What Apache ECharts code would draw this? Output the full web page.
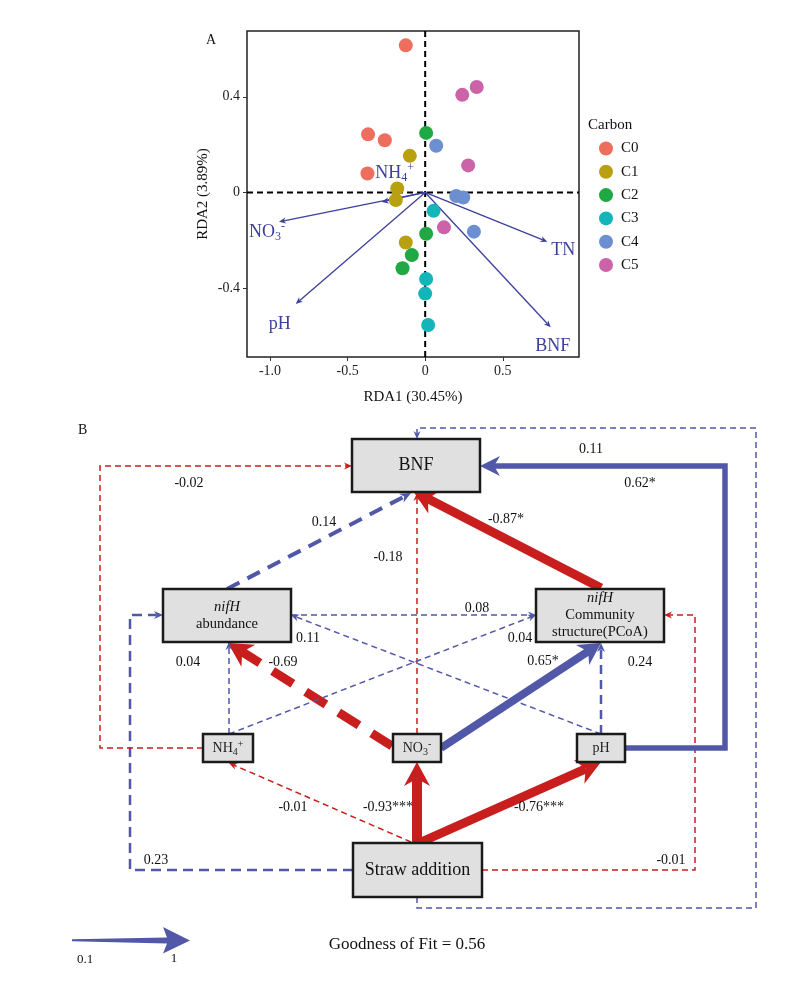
<!DOCTYPE html>
<html><head><meta charset="utf-8">
<script src="https://cdn.jsdelivr.net/npm/echarts@6/dist/echarts.min.js"></script>
<style>html,body{margin:0;padding:0;background:#fff}#c{width:804px;height:994px}</style>
</head><body><div id="c"></div>
<script>
// ================= Panel A data (RDA biplot) =================
const carbonGroups = ['C0','C1','C2','C3','C4','C5'];
const C0 = [[-0.125,0.615],[-0.368,0.243],[-0.26,0.218],[-0.372,0.079]];
const C1 = [[-0.099,0.153],[-0.18,0.017],[-0.189,-0.032],[-0.125,-0.209]];
const C2 = [[0.006,0.249],[0.006,-0.173],[-0.086,-0.262],[-0.146,-0.317]];
const C3 = [[0.054,-0.077],[0.006,-0.362],[0,-0.423],[0.019,-0.554]];
const C4 = [[0.071,0.195],[0.2,-0.015],[0.245,-0.021],[0.314,-0.164]];
const C5 = [[0.239,0.408],[0.332,0.441],[0.277,0.113],[0.121,-0.146]];
const envVars = ['NO3-','pH','TN','BNF','NH4+'];
const envRDA1 = [-0.942,-0.834,0.787,0.809,-0.28];
const envRDA2 = [-0.123,-0.466,-0.206,-0.564,-0.04];
const xTicks = [-1.0,-0.5,0,0.5];
const xTickLabels = ['-1.0','-0.5','0','0.5'];
const yTicks = [-0.4,0,0.4];
const yTickLabels = ['-0.4','0','0.4'];

// ================= Panel B data (path model) =================
const nodeNames = ['BNF','nifH abundance','nifH community','NH4+','NO3-','pH','Straw addition'];
const pathFrom = ['Straw addition','Straw addition','Straw addition','Straw addition','Straw addition','NH4+','NO3-','nifH community','nifH abundance','NO3-','NO3-','NH4+','NH4+','pH','nifH abundance','pH','Straw addition','pH'];
const pathTo   = ['NO3-','pH','NH4+','nifH abundance','BNF','BNF','BNF','BNF','BNF','nifH abundance','nifH community','nifH abundance','nifH community','nifH abundance','nifH community','nifH community','nifH community','BNF'];
const pathCoef = [-0.93,-0.76,-0.01,0.23,0.11,-0.02,-0.18,-0.87,0.14,-0.69,0.65,0.04,0.04,0.11,0.08,0.24,-0.01,0.62];
const pathSig  = ['***','***','','','','','','*','','','*','','','','','','','*'];
const goodnessOfFit = 0.56;

// ================= Styling / layout (not data) =================
const F = 'Liberation Serif';
const RED = '#C81E1E', BLUE = '#5158A8', ENV = '#3C3F9C';
const groupColors = ['#EE6E5E','#B8A010','#1FA843','#14B5B8','#6B8FD0','#CC62A8'];
const groupData = [C0,C1,C2,C3,C4,C5];
const envLabelText = {'NO3-':'{n|NO}{s|3}{p|-}','pH':'{n|pH}','TN':'{n|TN}','BNF':'{n|BNF}','NH4+':'{n|NH}{s|4}{p|+}'};
const envLabelOffset = {'NO3-':[-12,10],'pH':[-16,20],'TN':[16,9],'BNF':[2,19],'NH4+':[13,-29]};

// box layout in diagram units: x, y, w, h
const boxLayout = {
  'BNF':[352,439,128,53], 'nifH abundance':[163,589,128,53], 'nifH community':[536,589,128,53],
  'NH4+':[203,734,50,28], 'NO3-':[393,734,48,28], 'pH':[577,734,48,28], 'Straw addition':[353,843,129,54]
};
const boxText = {
  'BNF':'{big|BNF}', 'Straw addition':'{big|Straw addition}',
  'nifH abundance':'{i|nifH}\n{n|abundance}',
  'nifH community':'{i|nifH}\n{n|Community}\n{n|structure(PCoA)}',
  'NH4+':'{m|NH}{s|4}{p|+}', 'NO3-':'{m|NO}{s|3}{p|-}', 'pH':'{m|pH}'
};
// route, width, dash, head [len, halfWidth], label position
const pathLayout = [
  {r:[[417,843],[417,762]], w:10, d:null, h:[24,13], l:[388,807]},
  {r:[[419,843],[601,762]], w:9, d:null, h:[24,13], l:[539,807]},
  {r:[[411,842],[229,763]], w:1.5, d:[6,4], h:[8,3.5], l:[293,807]},
  {r:[[353,870],[130,870],[130,615],[163,615]], w:2.5, d:[10,6], h:[9,4], l:[156,860]},
  {r:[[417,897],[417,908],[756,908],[756,428],[417,428],[417,439]], w:1.5, d:[6,4], h:[8,3.5], l:[591,449]},
  {r:[[203,748],[100,748],[100,466],[352,466]], w:1.5, d:[6,4], h:[8,3.5], l:[189,483]},
  {r:[[417,734],[417,493]], w:1.5, d:[6,4], h:[8,3.5], l:[388,557]},
  {r:[[601,588],[413,491]], w:9, d:null, h:[24,13], l:[506,519]},
  {r:[[227,589],[411,493]], w:4, d:[14,9], h:[11,5], l:[324,522]},
  {r:[[392,746],[228,643]], w:9, d:[24,15], h:[24,13], l:[283,662]},
  {r:[[441,748],[601,643]], w:8, d:null, h:[22,12], l:[543,661]},
  {r:[[229,734],[229,642]], w:1.5, d:[6,4], h:[8,3.5], l:[188,662]},
  {r:[[229,734],[536,615]], w:1.5, d:[6,4], h:[8,3.5], l:[520,638]},
  {r:[[601,734],[291,615]], w:1.5, d:[6,4], h:[8,3.5], l:[308,638]},
  {r:[[291,615],[536,615]], w:1.5, d:[6,4], h:[8,3.5], l:[477,608]},
  {r:[[601,734],[601,643]], w:2.5, d:[9,6], h:[9,4], l:[640,662]},
  {r:[[482,870],[695,870],[695,615],[664,615]], w:1.5, d:[6,4], h:[8,3.5], l:[671,860]},
  {r:[[625,748],[725,748],[725,466],[480,466]], w:5.5, d:null, h:[20,10], l:[640,483]}
];
const scaleArrow = [[72,939.3],[167,937.6],[163,927],[190,940.5],[163,953.5],[167,943.6],[72,941.3]];

function arrowShapes(P, width, dash, color, head) {
  const n = P.length, tip = P[n-1], prev = P[n-2];
  let dx = tip[0]-prev[0], dy = tip[1]-prev[1];
  const len = Math.hypot(dx,dy); dx/=len; dy/=len;
  const L = head[0], W = head[1], nx = -dy, ny = dx;
  const back = [tip[0]-dx*L, tip[1]-dy*L];
  const notch = [tip[0]-dx*L*0.7, tip[1]-dy*L*0.7];
  const pts = P.slice(0,n-1).concat([notch]);
  return [
    {type:'polyline', shape:{points:pts}, style:{stroke:color, lineWidth:width, lineDash:dash||null, fill:null, lineJoin:'miter', lineCap:'butt'}},
    {type:'polygon', shape:{points:[tip,[back[0]+nx*W,back[1]+ny*W],notch,[back[0]-nx*W,back[1]-ny*W]]}, style:{fill:color}}
  ];
}

const chart = echarts.init(document.getElementById('c'), null, {renderer:'canvas'});
const tickFmt = (ticks, labels) => v => { const k = ticks.findIndex(t => Math.abs(t-v)<1e-9); return k>=0?labels[k]:''; };

const series = [];
// zero reference lines
series.push({
  type:'custom', xAxisIndex:0, yAxisIndex:0, z:1, silent:true, data:[[0,0]],
  renderItem(params, api){
    const cs = params.coordSys; const o = api.coord([0,0]);
    const st = {stroke:'#000', lineWidth:2, lineDash:[6,4]};
    return {type:'group', children:[
      {type:'line', shape:{x1:cs.x, y1:o[1], x2:cs.x+cs.width, y2:o[1]}, style:st},
      {type:'line', shape:{x1:o[0], y1:cs.y, x2:o[0], y2:cs.y+cs.height}, style:st}
    ]};
  }
});
// env arrows
series.push({
  type:'custom', xAxisIndex:0, yAxisIndex:0, z:2, silent:true,
  data: envVars.map((v,i)=>[envRDA1[i], envRDA2[i]]),
  renderItem(params, api){
    const i = params.dataIndex; const name = envVars[i];
    const o = api.coord([0,0]); const t = api.coord([envRDA1[i], envRDA2[i]]);
    const ch = arrowShapes([o,t], 1.3, null, ENV, [7,3]);
    const off = envLabelOffset[name];
    ch.push({type:'text', x:t[0]+off[0], y:t[1]+off[1], style:{text:envLabelText[name], align:'center', verticalAlign:'middle', fill:ENV,
      rich:{n:{fontFamily:F, fontSize:18, lineHeight:22, fill:ENV}, s:{fontFamily:F, fontSize:12, lineHeight:12, verticalAlign:'bottom', fill:ENV}, p:{fontFamily:F, fontSize:12, lineHeight:12, verticalAlign:'top', fill:ENV}}}});
    return {type:'group', children:ch};
  }
});
carbonGroups.forEach((g,k)=>{
  series.push({type:'scatter', name:g, xAxisIndex:0, yAxisIndex:0, z:3, data:groupData[k], symbol:'circle', symbolSize:14,
    itemStyle:{color:groupColors[k], opacity:1}});
});
// panel B paths
series.push({
  type:'custom', xAxisIndex:1, yAxisIndex:1, z:2, silent:true,
  data: pathCoef.map((c,i)=>[i,c]),
  renderItem(params, api){
    const i = params.dataIndex; const L = pathLayout[i];
    const color = pathCoef[i] < 0 ? RED : BLUE;
    const P = L.r.map(p=>api.coord(p));
    const ch = arrowShapes(P, L.w, L.d, color, L.h);
    const lp = api.coord(L.l);
    ch.push({type:'text', x:lp[0], y:lp[1], style:{text:pathCoef[i].toFixed(2)+pathSig[i], align:'center', verticalAlign:'middle', fill:'#111', fontFamily:F, fontSize:14}});
    return {type:'group', children:ch};
  }
});
// panel B boxes
series.push({
  type:'custom', xAxisIndex:1, yAxisIndex:1, z:3, silent:true,
  data: nodeNames.map((n,i)=>[i,0]),
  renderItem(params, api){
    const name = nodeNames[params.dataIndex]; const b = boxLayout[name];
    const p0 = api.coord([b[0],b[1]]), p1 = api.coord([b[0]+b[2], b[1]+b[3]]);
    return {type:'group', children:[
      {type:'rect', shape:{x:p0[0], y:p0[1], width:p1[0]-p0[0], height:p1[1]-p0[1]}, style:{fill:'#E0E0E0', stroke:'#1A1A1A', lineWidth:2.5}},
      {type:'text', x:(p0[0]+p1[0])/2, y:(p0[1]+p1[1])/2, style:{text:boxText[name], align:'center', verticalAlign:'middle', fill:'#111',
        rich:{
          big:{fontFamily:F, fontSize:18, fill:'#111', lineHeight:22},
          i:{fontFamily:F, fontSize:14.5, fontStyle:'italic', fill:'#111', lineHeight:17},
          n:{fontFamily:F, fontSize:14.5, fill:'#111', lineHeight:17},
          m:{fontFamily:F, fontSize:14, fill:'#222', lineHeight:18},
          s:{fontFamily:F, fontSize:10, fill:'#222', lineHeight:10, verticalAlign:'bottom'},
          p:{fontFamily:F, fontSize:10, fill:'#222', lineHeight:10, verticalAlign:'top'}
        }}}
    ]};
  }
});
// scale arrow
series.push({
  type:'custom', xAxisIndex:1, yAxisIndex:1, z:3, silent:true, data:[[0,0]],
  renderItem(params, api){
    const pts = scaleArrow.map(p=>api.coord(p));
    const a = api.coord([85,960]), b = api.coord([174,959]);
    return {type:'group', children:[
      {type:'polygon', shape:{points:pts}, style:{fill:BLUE}},
      {type:'text', x:a[0], y:a[1], style:{text:'0.1', align:'center', verticalAlign:'middle', fontFamily:F, fontSize:13, fill:'#111'}},
      {type:'text', x:b[0], y:b[1], style:{text:'1', align:'center', verticalAlign:'middle', fontFamily:F, fontSize:13, fill:'#111'}}
    ]};
  }
});

chart.setOption({
  animation:false,
  backgroundColor:'#fff',
  grid:[
    {left:247, top:31, width:332, height:326, show:true, borderColor:'#222', borderWidth:1.5, backgroundColor:'transparent'},
    {left:0, top:0, width:804, height:994, show:false}
  ],
  xAxis:[
    {gridIndex:0, type:'value', min:-1.148, max:0.991, name:'RDA1 (30.45%)', nameLocation:'middle', nameGap:33,
     nameTextStyle:{fontFamily:F, fontSize:15, color:'#111'},
     axisLine:{show:false, onZero:false}, splitLine:{show:false},
     axisTick:{show:true, inside:false, length:4, customValues:xTicks, lineStyle:{color:'#333'}},
     axisLabel:{customValues:xTicks, formatter:tickFmt(xTicks,xTickLabels), margin:7, fontFamily:F, fontSize:14, color:'#222'}},
    {gridIndex:1, type:'value', min:0, max:804, show:false}
  ],
  yAxis:[
    {gridIndex:0, type:'value', min:-0.688, max:0.675, name:'RDA2 (3.89%)', nameLocation:'middle', nameGap:36,
     nameTextStyle:{fontFamily:F, fontSize:15, color:'#111'},
     axisLine:{show:false, onZero:false}, splitLine:{show:false},
     axisTick:{show:true, inside:false, length:4, customValues:yTicks, lineStyle:{color:'#333'}},
     axisLabel:{customValues:yTicks, formatter:tickFmt(yTicks,yTickLabels), margin:7, fontFamily:F, fontSize:14, color:'#222'}},
    {gridIndex:1, type:'value', min:0, max:994, inverse:true, show:false}
  ],
  legend:{data:carbonGroups, orient:'vertical', left:594, top:136, icon:'circle', itemWidth:20, itemHeight:14, itemGap:8.3,
    textStyle:{fontFamily:F, fontSize:15, color:'#111'}, selectedMode:false},
  graphic:[
    {type:'text', left:206, top:33, style:{text:'A', fontFamily:F, fontSize:14, fill:'#111'}},
    {type:'text', left:588, top:118, style:{text:'Carbon', fontFamily:F, fontSize:15, fill:'#111'}},
    {type:'text', left:78, top:423, style:{text:'B', fontFamily:F, fontSize:14, fill:'#111'}},
    {type:'text', x:407, y:945, style:{text:'Goodness of Fit = ' + goodnessOfFit.toFixed(2), fontFamily:F, fontSize:17, fill:'#111', align:'center', verticalAlign:'middle'}}
  ],
  series
});
</script></body></html>
